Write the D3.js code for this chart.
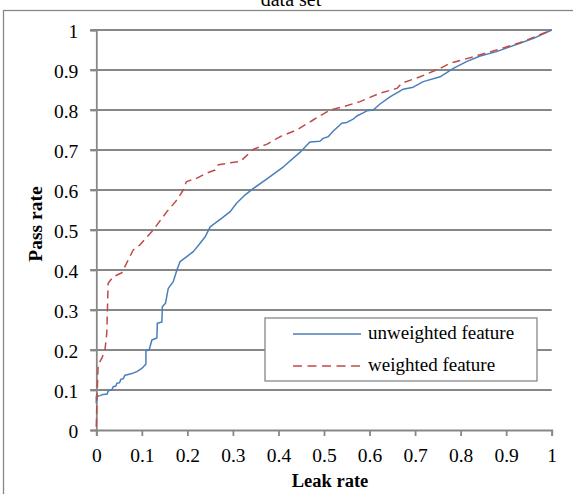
<!DOCTYPE html>
<html>
<head>
<meta charset="utf-8">
<script src="https://cdn.jsdelivr.net/npm/d3@7"></script>
<style>
  html, body { margin: 0; padding: 0; background: #fff; }
  svg { display: block; }
  text { font-family: "Liberation Serif", "Times New Roman", serif; fill: #000; }
</style>
</head>
<body>
<svg id="chart" width="573" height="494"></svg>
<script>
// ---- data ----
const titleText = "data set";
const xLabel = "Leak rate";
const yLabel = "Pass rate";
const seriesNames = ["unweighted feature", "weighted feature"];
const tickValues = [0, 0.1, 0.2, 0.3, 0.4, 0.5, 0.6, 0.7, 0.8, 0.9, 1];

const unweightedLeak = [0, 0, 0.008, 0.015, 0.024, 0.026, 0.034, 0.037, 0.043, 0.045, 0.051, 0.054, 0.059, 0.063, 0.07, 0.078, 0.089, 0.1, 0.109, 0.109, 0.116, 0.122, 0.133, 0.134, 0.144, 0.145, 0.152, 0.158, 0.169, 0.177, 0.184, 0.198, 0.213, 0.228, 0.239, 0.25, 0.261, 0.275, 0.294, 0.308, 0.327, 0.345, 0.374, 0.411, 0.447, 0.469, 0.491, 0.498, 0.509, 0.52, 0.539, 0.55, 0.564, 0.572, 0.586, 0.594, 0.608, 0.623, 0.645, 0.674, 0.696, 0.718, 0.755, 0.784, 0.813, 0.843, 0.879, 0.93, 0.96, 1];
const unweightedPass = [0.067, 0.083, 0.086, 0.089, 0.09, 0.098, 0.1, 0.108, 0.11, 0.117, 0.118, 0.127, 0.128, 0.137, 0.139, 0.141, 0.146, 0.154, 0.165, 0.198, 0.2, 0.225, 0.23, 0.267, 0.27, 0.308, 0.317, 0.354, 0.371, 0.4, 0.421, 0.433, 0.446, 0.467, 0.483, 0.508, 0.517, 0.529, 0.546, 0.567, 0.588, 0.604, 0.627, 0.658, 0.694, 0.72, 0.722, 0.729, 0.733, 0.747, 0.767, 0.769, 0.777, 0.785, 0.793, 0.798, 0.8, 0.815, 0.833, 0.852, 0.857, 0.871, 0.883, 0.904, 0.921, 0.935, 0.946, 0.967, 0.979, 1];

const weightedLeak = [0, 0.002, 0.004, 0.012, 0.019, 0.023, 0.024, 0.026, 0.037, 0.056, 0.081, 0.096, 0.125, 0.155, 0.177, 0.191, 0.198, 0.22, 0.242, 0.261, 0.268, 0.294, 0.316, 0.345, 0.374, 0.403, 0.44, 0.476, 0.513, 0.542, 0.579, 0.623, 0.66, 0.671, 0.711, 0.755, 0.777, 0.828, 0.879, 0.93, 1];
const weightedPass = [0.008, 0.092, 0.163, 0.179, 0.2, 0.242, 0.283, 0.367, 0.383, 0.393, 0.45, 0.463, 0.5, 0.546, 0.575, 0.6, 0.621, 0.629, 0.642, 0.65, 0.663, 0.668, 0.671, 0.702, 0.714, 0.733, 0.75, 0.775, 0.8, 0.808, 0.821, 0.842, 0.854, 0.867, 0.883, 0.904, 0.917, 0.933, 0.95, 0.968, 1];

const colors = ["#4a7ebb", "#be4b48"];
const gridColor = "#878787";

// ---- layout ----
const svg = d3.select("#chart");
const x = d3.scaleLinear().domain([0, 1]).range([96.3, 551.7]);
const y = d3.scaleLinear().domain([0, 1]).range([430, 30]);

// outer chart frame (right/bottom off-canvas)
svg.append("rect")
  .attr("x", 3.5).attr("y", 10.5).attr("width", 620).attr("height", 520)
  .attr("fill", "none").attr("stroke", gridColor).attr("stroke-width", 1.3);

// title
svg.append("text").attr("x", 291).attr("y", 5.5).attr("text-anchor", "middle")
  .style("font-size", "20px").text(titleText);

// gridlines
svg.append("g").selectAll("line").data(tickValues.slice(1)).join("line")
  .attr("x1", x(0) - 6).attr("x2", x(1))
  .attr("y1", d => y(d)).attr("y2", d => y(d))
  .attr("stroke", gridColor).attr("stroke-width", 1.8);

// y axis
const yAxis = svg.append("g").attr("transform", `translate(${x(0)},0)`)
  .call(d3.axisLeft(y).tickValues(tickValues).tickFormat(d3.format("")).tickSize(6).tickPadding(12));
yAxis.select(".domain").attr("stroke", gridColor).attr("stroke-width", 1.8);
yAxis.selectAll(".tick line").attr("stroke", gridColor).attr("stroke-width", 1.8);
yAxis.selectAll(".tick text").style("font-size", "19.5px").style("font-family", "Liberation Serif")
  .attr("dy", "0.38em").attr("fill", "#000");

// x axis
const xAxis = svg.append("g").attr("transform", `translate(0,${y(0)})`)
  .call(d3.axisBottom(x).tickValues(tickValues).tickFormat(d3.format("")).tickSize(6).tickPadding(12));
xAxis.select(".domain").attr("stroke", gridColor).attr("stroke-width", 1.8);
xAxis.selectAll(".tick line").attr("stroke", gridColor).attr("stroke-width", 1.8);
xAxis.selectAll(".tick text").style("font-size", "19.5px").style("font-family", "Liberation Serif")
  .attr("dy", "0.71em").attr("fill", "#000");

// axis titles
svg.append("text").attr("x", 330).attr("y", 486.5).attr("text-anchor", "middle")
  .style("font-size", "18.5px").style("font-weight", "bold").text(xLabel);
svg.append("text").attr("transform", "translate(41.5,224) rotate(-90)").attr("text-anchor", "middle")
  .style("font-size", "19.5px").style("font-weight", "bold").text(yLabel);

// lines
const line = d3.line().x(d => x(d[0])).y(d => y(d[1]));
const unweighted = d3.zip(unweightedLeak, unweightedPass);
const weighted = d3.zip(weightedLeak, weightedPass);

svg.append("path").datum(unweighted).attr("d", line)
  .attr("fill", "none").attr("stroke", colors[0]).attr("stroke-width", 1.5)
  .attr("stroke-linejoin", "round");
svg.append("path").datum(weighted).attr("d", line)
  .attr("fill", "none").attr("stroke", colors[1]).attr("stroke-width", 1.5)
  .attr("stroke-dasharray", "8,5").attr("stroke-linejoin", "round");

// legend
const lg = svg.append("g");
lg.append("rect").attr("x", 265).attr("y", 318).attr("width", 272).attr("height", 63)
  .attr("fill", "#fff").attr("stroke", gridColor).attr("stroke-width", 1.3);
seriesNames.forEach((name, i) => {
  const ly = 334 + i * 32;
  lg.append("line").attr("x1", 293).attr("x2", 361).attr("y1", ly).attr("y2", ly)
    .attr("stroke", colors[i]).attr("stroke-width", 1.5)
    .attr("stroke-dasharray", i === 1 ? "9,5.5" : null);
  lg.append("text").attr("x", 368).attr("y", ly + 4.5)
    .style("font-size", "19px").text(name);
});
</script>
</body>
</html>
